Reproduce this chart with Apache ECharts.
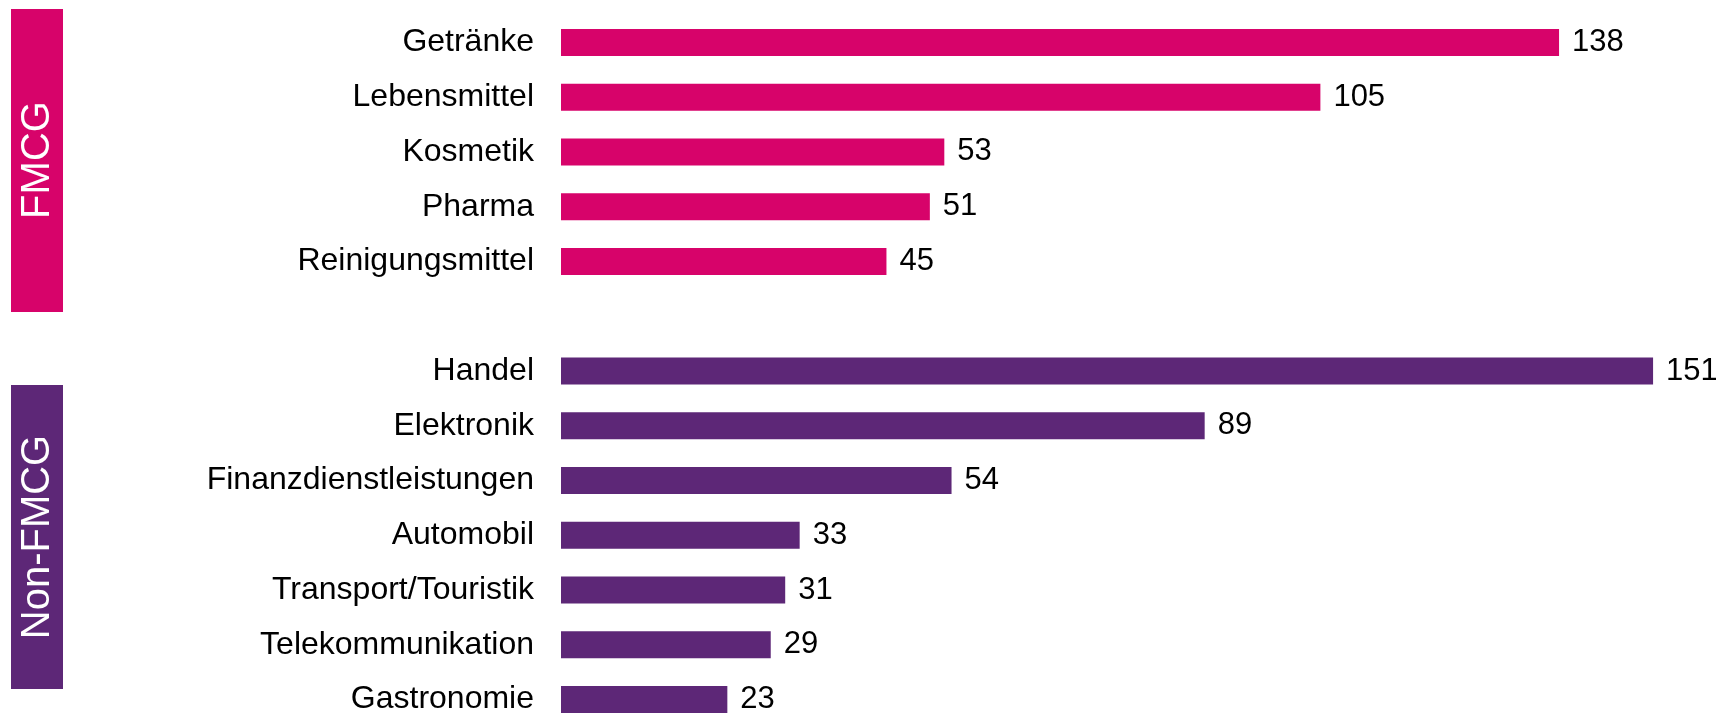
<!DOCTYPE html>
<html>
<head>
<meta charset="utf-8">
<script src="https://cdn.jsdelivr.net/npm/echarts@6/dist/echarts.min.js"></script>
<style>
  html, body { margin: 0; padding: 0; background: #fff; }
  #chart { width: 1716px; height: 713px; }
</style>
</head>
<body>
<div id="chart"></div>
<script>
var fmcgCats = ['Getränke', 'Lebensmittel', 'Kosmetik', 'Pharma', 'Reinigungsmittel'];
var fmcgValues = [138, 105, 53, 51, 45];
var nonFmcgCats = ['Handel', 'Elektronik', 'Finanzdienstleistungen', 'Automobil', 'Transport/Touristik', 'Telekommunikation', 'Gastronomie'];
var nonFmcgValues = [151, 89, 54, 33, 31, 29, 23];
var groupNames = ['FMCG', 'Non-FMCG'];

const pink = '#d7036a';
const purple = '#5d2777';
var font = '"Liberation Sans", Arial, sans-serif';

// one category axis, with an empty slot between the two groups
var categories = fmcgCats.concat(['']).concat(nonFmcgCats);
var barData = [];
fmcgValues.forEach(function (v) {
    barData.push({ value: v, itemStyle: { color: pink } });
});
barData.push({ value: '-' });
nonFmcgValues.forEach(function (v) {
    barData.push({ value: v, itemStyle: { color: purple } });
});

var myChart = echarts.init(document.getElementById('chart'), null, { renderer: 'canvas' });

var option = {
    animation: false,
    grid: {
        left: 561,
        top: 15,
        right: 34,
        bottom: -14,
        outerBoundsMode: 'none'
    },
    xAxis: {
        type: 'value',
        min: 0,
        max: 155,
        show: false
    },
    yAxis: {
        type: 'category',
        inverse: true,
        data: categories,
        axisLine: { show: false },
        axisTick: { show: false },
        splitLine: { show: false },
        axisLabel: {
            margin: 27,
            color: '#000',
            fontSize: 32,
            fontFamily: font
        }
    },
    series: [{
        type: 'bar',
        barWidth: 27,
        data: barData,
        label: {
            show: true,
            position: 'right',
            distance: 13,
            color: '#000',
            fontSize: 31,
            fontFamily: font
        }
    }],
    graphic: [
        { type: 'rect', shape: { x: 11, y: 9, width: 52, height: 303 }, style: { fill: pink } },
        { type: 'rect', shape: { x: 11, y: 385, width: 52, height: 304 }, style: { fill: purple } },
        {
            type: 'text', x: 38, y: 160, rotation: Math.PI / 2,
            style: { text: groupNames[0], fill: '#fff', fontSize: 40, fontFamily: font, align: 'center', verticalAlign: 'middle' }
        },
        {
            type: 'text', x: 38, y: 537, rotation: Math.PI / 2,
            style: { text: groupNames[1], fill: '#fff', fontSize: 40, fontFamily: font, align: 'center', verticalAlign: 'middle' }
        }
    ]
};

myChart.setOption(option);
</script>
</body>
</html>
